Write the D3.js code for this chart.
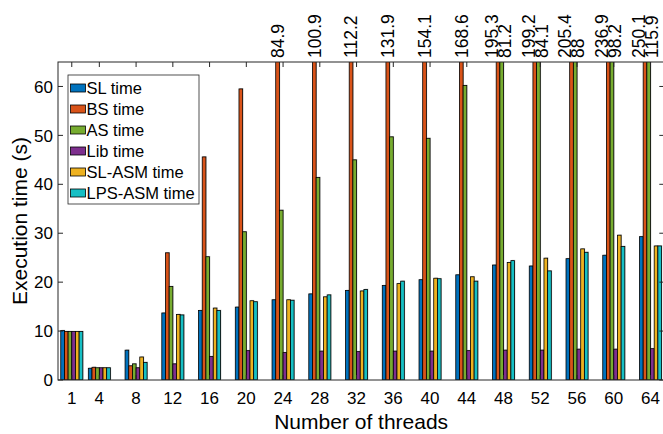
<!DOCTYPE html>
<html>
<head>
<meta charset="utf-8">
<script src="https://cdn.jsdelivr.net/npm/d3@7"></script>
<style>
  body { margin: 0; background: #fff; }
  text { font-family: "Liberation Sans", Arial, sans-serif; fill: #000; }
</style>
</head>
<body>
<div id="chart"></div>
<script>
// thread counts (numeric x axis)
const threads = [1, 4, 8, 12, 16, 20, 24, 28, 32, 36, 40, 44, 48, 52, 56, 60, 64];

const seriesNames = ["SL time", "BS time", "AS time", "Lib time", "SL-ASM time", "LPS-ASM time"];
const seriesColors = ["#0072BD", "#D95319", "#77AC30", "#7E2F8E", "#EDB120", "#17BFC4"];

const slTime     = [10.1, 2.4, 6.1, 13.7, 14.2, 14.9, 16.4, 17.6, 18.3, 19.3, 20.5, 21.5, 23.5, 23.3, 24.8, 25.5, 29.3];
const bsTime     = [9.9, 2.6, 2.9, 26.0, 45.6, 59.5, 84.9, 100.9, 112.2, 131.9, 154.1, 168.6, 195.3, 199.2, 205.4, 236.9, 250.1];
const asTime     = [9.9, 2.5, 3.3, 19.1, 25.2, 30.3, 34.7, 41.4, 45.0, 49.7, 49.4, 60.2, 81.2, 84.1, 88, 98.2, 115.9];
const libTime    = [9.9, 2.5, 2.5, 3.3, 4.8, 6.0, 5.6, 5.9, 5.8, 5.9, 5.9, 6.0, 6.1, 6.1, 6.3, 6.3, 6.4];
const slAsmTime  = [9.9, 2.5, 4.7, 13.4, 14.7, 16.2, 16.4, 17.0, 18.2, 19.7, 20.8, 21.1, 24.0, 24.9, 26.8, 29.6, 27.4];
const lpsAsmTime = [9.9, 2.5, 3.6, 13.3, 14.2, 16.0, 16.3, 17.4, 18.5, 20.2, 20.7, 20.2, 24.4, 22.3, 26.1, 27.3, 27.4];

const series = [slTime, bsTime, asTime, libTime, slAsmTime, lpsAsmTime];
const yTicks = [0, 10, 20, 30, 40, 50, 60];

const W = 663, H = 434;
const margin = { top: 62, left: 58, bottom: 54 };
const plotRight = 664.3;
const yMax = 65;

const svg = d3.select("#chart").append("svg")
    .attr("width", W)
    .attr("height", H);

const x = d3.scaleLinear().domain([-0.5, 65.5]).range([margin.left, plotRight]);
const y = d3.scaleLinear().domain([0, yMax]).range([H - margin.bottom, margin.top]);

// grouped bars: group width 0.8 * minimum spacing (3)
const groupWidth = 0.8 * 3;
const slot = groupWidth / series.length;

svg.append("clipPath").attr("id", "plotClip")
    .append("rect")
    .attr("x", margin.left).attr("y", margin.top)
    .attr("width", plotRight - margin.left)
    .attr("height", y(0) - margin.top);

const barsGroup = svg.append("g").attr("clip-path", "url(#plotClip)");

const rows = [];
series.forEach((vals, s) => {
    vals.forEach((v, i) => {
        rows.push({ s: s, t: threads[i], v: v });
    });
});

const bx = d => x(d.t - groupWidth / 2 + slot * d.s);
const bw = x(slot) - x(0);

// soft grey edge like the original rendering
barsGroup.selectAll("rect.shadow").data(rows).enter().append("rect")
    .attr("class", "shadow")
    .attr("x", d => bx(d) + 0.8)
    .attr("y", d => y(Math.min(d.v, yMax + 1)) - 0.8)
    .attr("width", bw)
    .attr("height", d => y(0) - y(Math.min(d.v, yMax + 1)))
    .attr("fill", "#9a9a9a")
    .attr("opacity", 0.55);

barsGroup.selectAll("rect.bar").data(rows).enter().append("rect")
    .attr("class", "bar")
    .attr("x", d => bx(d))
    .attr("y", d => y(Math.min(d.v, yMax + 1)))
    .attr("width", bw)
    .attr("height", d => y(0) - y(Math.min(d.v, yMax + 1)))
    .attr("fill", d => seriesColors[d.s])
    .attr("stroke", "#000")
    .attr("stroke-width", 0.8);

// values that run off the top
threads.forEach((t, i) => {
    const over = [1, 2].filter(s => series[s][i] > yMax);
    const cx = x(t - groupWidth / 2 + slot * 1.5);
    over.forEach((s, k) => {
        const off = over.length === 2 ? (k === 0 ? -6.5 : 6.5) : 0;
        svg.append("text")
            .attr("transform", `translate(${cx + off},${margin.top - 4}) rotate(-90)`)
            .attr("dy", "0.36em")
            .style("font-size", "17.5px")
            .text(String(series[s][i]));
    });
});

// axes box with inward ticks
const axisColor = "#262626";
const axes = svg.append("g");
axes.append("rect")
    .attr("x", margin.left).attr("y", margin.top)
    .attr("width", plotRight - margin.left)
    .attr("height", y(0) - margin.top)
    .attr("fill", "none")
    .attr("stroke", axisColor)
    .attr("stroke-width", 1);

const tickLen = 5;
threads.forEach(t => {
    axes.append("line").attr("x1", x(t)).attr("x2", x(t))
        .attr("y1", y(0)).attr("y2", y(0) - tickLen).attr("stroke", axisColor);
    axes.append("line").attr("x1", x(t)).attr("x2", x(t))
        .attr("y1", margin.top).attr("y2", margin.top + tickLen).attr("stroke", axisColor);
    axes.append("text")
        .attr("x", x(t)).attr("y", 404)
        .attr("text-anchor", "middle")
        .style("font-size", "17px")
        .text(t);
});
yTicks.forEach(v => {
    axes.append("line").attr("x1", margin.left).attr("x2", margin.left + tickLen)
        .attr("y1", y(v)).attr("y2", y(v)).attr("stroke", axisColor);
    axes.append("line").attr("x1", plotRight).attr("x2", plotRight - tickLen)
        .attr("y1", y(v)).attr("y2", y(v)).attr("stroke", axisColor);
    axes.append("text")
        .attr("x", margin.left - 5).attr("y", y(v))
        .attr("dy", "0.36em")
        .attr("text-anchor", "end")
        .style("font-size", "17px")
        .text(v);
});

// axis titles
svg.append("text")
    .attr("x", (margin.left + plotRight) / 2).attr("y", 429)
    .attr("text-anchor", "middle")
    .style("font-size", "21px")
    .text("Number of threads");

svg.append("text")
    .attr("transform", `translate(27,${(margin.top + y(0)) / 2}) rotate(-90)`)
    .attr("text-anchor", "middle")
    .style("font-size", "21px")
    .text("Execution time (s)");

// legend
const legend = svg.append("g").attr("transform", "translate(68,75)");
legend.append("rect")
    .attr("width", 131).attr("height", 129)
    .attr("fill", "#fff")
    .attr("stroke", axisColor)
    .attr("stroke-width", 0.8);

seriesNames.forEach((name, i) => {
    const ly = 13 + i * 21;
    legend.append("rect")
        .attr("x", 2.5).attr("y", ly - 4)
        .attr("width", 15).attr("height", 8)
        .attr("fill", seriesColors[i])
        .attr("stroke", "#000")
        .attr("stroke-width", 0.8);
    legend.append("text")
        .attr("x", 18.5).attr("y", ly)
        .attr("dy", "0.36em")
        .style("font-size", "16.5px")
        .text(name);
});
</script>
</body>
</html>
